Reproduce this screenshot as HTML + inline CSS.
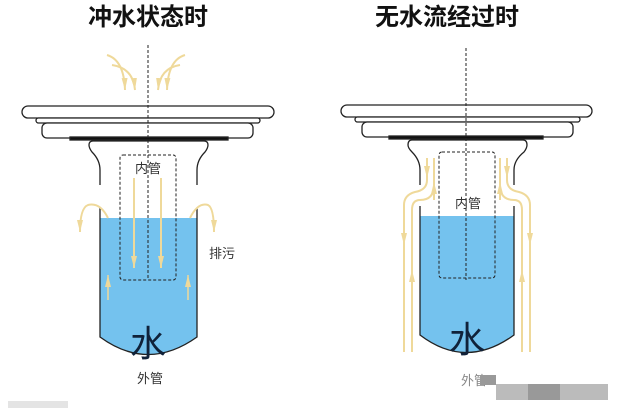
<!DOCTYPE html>
<html><head><meta charset="utf-8"><style>
html,body{margin:0;padding:0;background:#fff;width:623px;height:419px;overflow:hidden}
svg{display:block}
text{font-family:"Liberation Sans","Noto Sans CJK SC",sans-serif}
</style></head><body>
<svg width="623" height="419" viewBox="0 0 623 419" xmlns="http://www.w3.org/2000/svg">
<defs>
<marker id="ad" markerWidth="12" markerHeight="6" refX="12" refY="3" orient="auto" markerUnits="userSpaceOnUse"><path d="M0,0 L12,3 L0,6 z" fill="#efd99a"/></marker>
</defs>
<text x="148" y="25" font-size="24" font-weight="bold" text-anchor="middle" fill="#111">冲水状态时</text>
<text x="447" y="25" font-size="24" font-weight="bold" text-anchor="middle" fill="#111">无水流经过时</text>

<!-- LEFT -->
<g stroke="#222" stroke-width="1.3" fill="#fff">
<rect x="22" y="106" width="252" height="12" rx="6"/>
<rect x="36" y="118" width="224" height="5" rx="2.5"/>
<rect x="42" y="123" width="211" height="15" rx="5"/>
<rect x="70" y="137" width="158" height="3" fill="#111"/>
</g>
<path d="M100,218 H197 V337 Q148,372 100,337 Z" fill="#74c2ee"/>
<path d="M100,208 V337 Q148,372 197,337 V208" fill="none" stroke="#222" stroke-width="1.3"/>
<path d="M100,185 V170 Q100,160 92,152 Q89,148 89,145 Q89,141 93,141 H204 Q208,141 208,145 Q208,148 205,152 Q197,160 197,170 V185" fill="#fff" stroke="#222" stroke-width="1.3"/>
<rect x="120" y="155" width="56" height="125" rx="3" fill="none" stroke="#222" stroke-width="1" stroke-dasharray="3,2"/>
<line x1="148" y1="45" x2="148" y2="280" stroke="#222" stroke-width="1" stroke-dasharray="3,2"/>
<g stroke="#efd99a" stroke-width="2" fill="none">
<path d="M107,55 Q124,60 125,90" marker-end="url(#ad)"/>
<path d="M112,65 Q133,68 135,90" marker-end="url(#ad)"/>
<path d="M185,55 Q168,60 167,90" marker-end="url(#ad)"/>
<path d="M180,65 Q160,68 158,90" marker-end="url(#ad)"/>
<line x1="134" y1="178" x2="134" y2="268" marker-end="url(#ad)"/>
<line x1="161" y1="178" x2="161" y2="268" marker-end="url(#ad)"/>
<path d="M108,218 Q100,202 88,205 Q80,208 80,232" marker-end="url(#ad)"/>
<path d="M190,218 Q198,202 208,205 Q214,208 214,232" marker-end="url(#ad)"/>
<path d="M108,300 V275" stroke-width="1.5" marker-end="url(#ad)"/>
<path d="M188,300 V275" stroke-width="1.5" marker-end="url(#ad)"/>
</g>
<text x="148" y="173" font-size="13" text-anchor="middle" fill="#333">内管</text>
<text x="148" y="356" font-size="36" text-anchor="middle" fill="#10223a">水</text>
<text x="150" y="383" font-size="13" text-anchor="middle" fill="#333">外管</text>
<text x="222" y="258" font-size="13" text-anchor="middle" fill="#333">排污</text>
<rect x="8" y="401" width="60" height="7" fill="#e4e4e4"/>

<!-- RIGHT -->
<g stroke="#efd99a" stroke-width="2" fill="none">
<path d="M427,158 V180 Q427,190 415,192 Q404,195 404,205 V352"/>
<path d="M434,158 V185 Q434,200 420,200 Q412,200 412,210 V352"/>
<path d="M507,158 V180 Q507,190 519,192 Q530,195 530,205 V352"/>
<path d="M500,158 V185 Q500,200 514,200 Q522,200 522,210 V352"/>
<path d="M404,225 V245" marker-end="url(#ad)"/>
<path d="M530,225 V245" marker-end="url(#ad)"/>
<path d="M412,290 V270" marker-end="url(#ad)"/>
<path d="M522,290 V270" marker-end="url(#ad)"/>
<path d="M434,200 V182" marker-end="url(#ad)"/>
<path d="M500,200 V182" marker-end="url(#ad)"/>
<path d="M427,160 V178" marker-end="url(#ad)"/>
<path d="M507,160 V178" marker-end="url(#ad)"/>
</g>
<g stroke="#222" stroke-width="1.3" fill="#fff">
<rect x="341" y="105" width="251" height="12" rx="6"/>
<rect x="355" y="117" width="225" height="5" rx="2.5"/>
<rect x="362" y="122" width="211" height="15" rx="5"/>
<rect x="389" y="136" width="154" height="3" fill="#111"/>
</g>
<path d="M420,216 H514 V335 Q466,370 420,335 Z" fill="#74c2ee"/>
<path d="M420,206 V335 Q466,370 514,335 V206" fill="none" stroke="#222" stroke-width="1.3"/>
<path d="M420,185 V170 Q420,160 412,152 Q408,148 408,145 Q408,140 412,140 H523 Q527,140 527,145 Q527,148 524,152 Q514,160 514,170 V185" fill="none" stroke="#222" stroke-width="1.3"/>
<rect x="439" y="152" width="56" height="126" rx="3" fill="none" stroke="#222" stroke-width="1" stroke-dasharray="3,2"/>
<line x1="466" y1="48" x2="466" y2="280" stroke="#222" stroke-width="1" stroke-dasharray="3,2"/>
<text x="468" y="208" font-size="13" text-anchor="middle" fill="#333">内管</text>
<text x="467" y="352" font-size="36" text-anchor="middle" fill="#10223a">水</text>
<text x="474" y="385" font-size="13" text-anchor="middle" fill="#888">外管</text>
<rect x="480" y="375" width="16" height="10" fill="#999"/>
<rect x="496" y="384" width="112" height="16" fill="#bbb"/>
<rect x="528" y="384" width="32" height="16" fill="#999"/>
</svg>
</body></html>
